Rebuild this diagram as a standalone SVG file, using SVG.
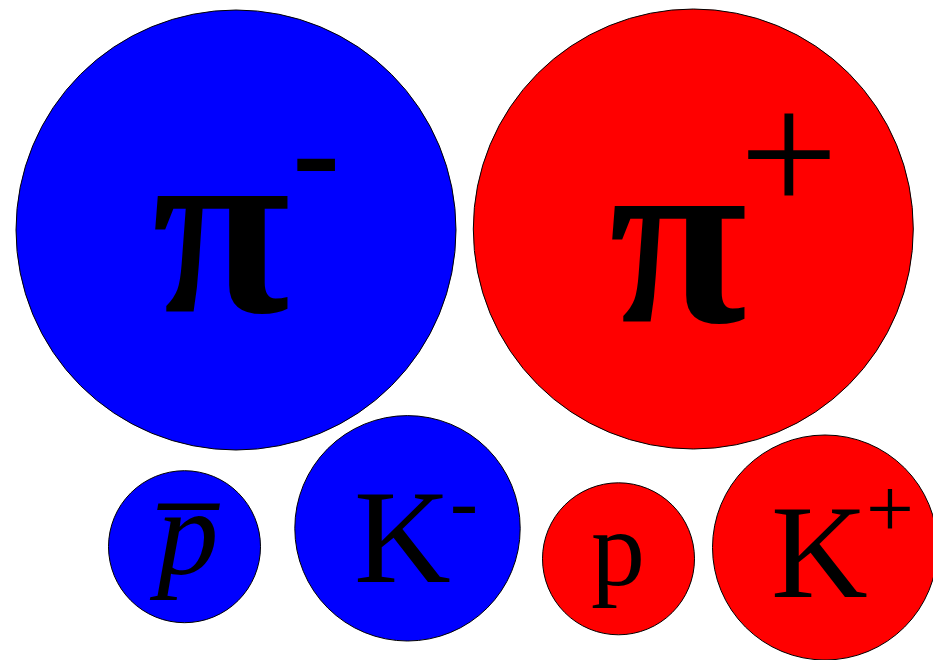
<svg xmlns="http://www.w3.org/2000/svg" width="933" height="660" viewBox="0 0 933 660">
<style>
.blue{fill:#0000ff;stroke:#000;stroke-width:1}
.red{fill:#ff0000;stroke:#000;stroke-width:1}
.t{font-family:"Liberation Serif","Times New Roman",serif;fill:#000}
.b{font-weight:bold}
.i{font-style:italic}
</style>
<rect width="933" height="660" fill="#fff"/>
<g id="pi-minus">
<circle class="blue" cx="236" cy="230" r="220"/>
<text class="t b" x="152" y="312" font-size="252">π</text>
<text class="t b" x="292" y="199" font-size="145">-</text>
</g>
<g id="pi-plus">
<circle class="red" cx="693.3" cy="229" r="220"/>
<text class="t b" x="609" y="322" font-size="252">π</text>
<text class="t" x="739.5" y="213" font-size="175">+</text>
</g>
<g id="antiproton">
<circle class="blue" cx="184.5" cy="546.7" r="76"/>
<text class="t i" x="157" y="574" font-size="123">p̅</text>
</g>
<g id="k-minus">
<circle class="blue" cx="407.5" cy="528.3" r="112.7"/>
<text class="t" x="354" y="582" font-size="134">K</text>
<text class="t" x="450" y="530" font-size="84">-</text>
</g>
<g id="proton">
<circle class="red" cx="618.5" cy="558.8" r="76"/>
<text class="t" x="591" y="585" font-size="108">p</text>
</g>
<g id="k-plus">
<circle class="red" cx="825" cy="547.5" r="112.5"/>
<text class="t" x="771" y="596.5" font-size="134">K</text>
<text class="t" x="866" y="537" font-size="85">+</text>
</g>
<g id="connectors"></g>
</svg>
